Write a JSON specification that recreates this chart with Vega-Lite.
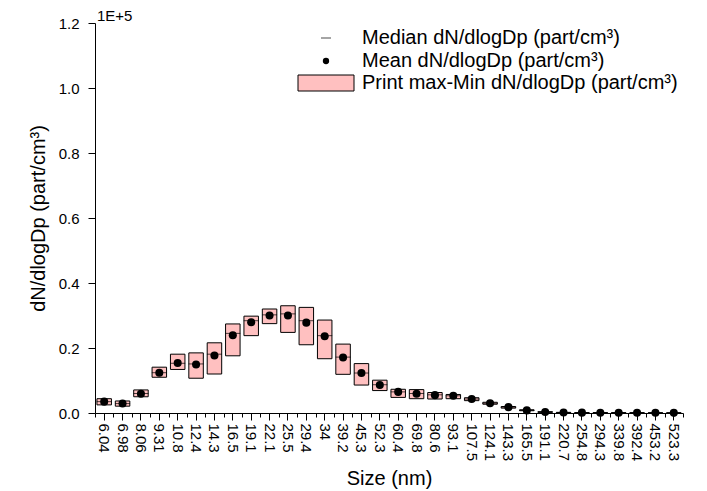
{
  "$schema": "https://vega.github.io/schema/vega-lite/v6.json",
  "width": 588,
  "height": 390,
  "autosize": "none",
  "padding": {"left": 95, "top": 23, "right": 24, "bottom": 78},
  "background": "white",
  "title": {
    "text": "1E+5",
    "anchor": "start",
    "frame": "group",
    "fontSize": 15,
    "fontWeight": "normal",
    "font": "Liberation Sans, Arial, sans-serif",
    "color": "black",
    "offset": -8,
    "dx": 2
  },
  "data": {
    "values": [
      {"size": "6.04", "max": 4400, "min": 2500, "mean": 3500, "median": 3500},
      {"size": "6.98", "max": 3700, "min": 2100, "mean": 2900, "median": 2900},
      {"size": "8.06", "max": 7100, "min": 5000, "mean": 5900, "median": 6000},
      {"size": "9.31", "max": 14100, "min": 11000, "mean": 12400, "median": 12400},
      {"size": "10.8", "max": 18100, "min": 13400, "mean": 15400, "median": 15300},
      {"size": "12.4", "max": 18500, "min": 10700, "mean": 14900, "median": 15100},
      {"size": "14.3", "max": 21600, "min": 12000, "mean": 17700, "median": 18100},
      {"size": "16.5", "max": 27400, "min": 17600, "mean": 23900, "median": 24500},
      {"size": "19.1", "max": 29800, "min": 23800, "mean": 27900, "median": 28400},
      {"size": "22.1", "max": 32000, "min": 27500, "mean": 30000, "median": 30200},
      {"size": "25.5", "max": 33000, "min": 24800, "mean": 30000, "median": 30500},
      {"size": "29.4", "max": 32500, "min": 21000, "mean": 27800, "median": 28400},
      {"size": "34", "max": 28600, "min": 16700, "mean": 23600, "median": 23800},
      {"size": "39.2", "max": 21200, "min": 11900, "mean": 17100, "median": 17200},
      {"size": "45.3", "max": 15200, "min": 8600, "mean": 12300, "median": 12300},
      {"size": "52.3", "max": 10100, "min": 6900, "mean": 8600, "median": 8700},
      {"size": "60.4", "max": 7300, "min": 4800, "mean": 6500, "median": 6500},
      {"size": "69.8", "max": 7200, "min": 4400, "mean": 5900, "median": 6000},
      {"size": "80.6", "max": 6300, "min": 4300, "mean": 5500, "median": 5600},
      {"size": "93.1", "max": 5700, "min": 4400, "mean": 5300, "median": 5300},
      {"size": "107.5", "max": 4700, "min": 3800, "mean": 4300, "median": 4300},
      {"size": "124.1", "max": 3300, "min": 2700, "mean": 3000, "median": 3000},
      {"size": "143.3", "max": 2000, "min": 1500, "mean": 1800, "median": 1800},
      {"size": "165.5", "max": 1000, "min": 700, "mean": 800, "median": 800},
      {"size": "191.1", "max": 400, "min": 200, "mean": 300, "median": 300},
      {"size": "220.7", "max": 200, "min": 100, "mean": 150, "median": 150},
      {"size": "254.8", "max": 150, "min": 80, "mean": 110, "median": 110},
      {"size": "294.3", "max": 120, "min": 60, "mean": 90, "median": 90},
      {"size": "339.8", "max": 100, "min": 50, "mean": 70, "median": 70},
      {"size": "392.4", "max": 80, "min": 40, "mean": 60, "median": 60},
      {"size": "453.2", "max": 60, "min": 30, "mean": 50, "median": 50},
      {"size": "523.3", "max": 50, "min": 20, "mean": 40, "median": 40}
    ]
  },
  "layer": [
    {
      "mark": {"type": "bar", "size": 14.5, "stroke": "black", "strokeWidth": 1},
      "encoding": {
        "x": {
          "field": "size",
          "type": "ordinal",
          "sort": null,
          "scale": {"type": "band", "paddingInner": 0, "paddingOuter": 0},
          "axis": {
            "orient": "bottom",
            "title": "Size (nm)",
            "labelAngle": 90,
            "labelOverlap": false,
            "tickBand": "center",
            "tickSize": 7,
            "labelPadding": 3,
            "titlePadding": 8
          }
        },
        "y": {
          "field": "min",
          "type": "quantitative",
          "title": "dN/dlogDp (part/cm³)",
          "scale": {"domain": [0, 120000], "nice": false, "zero": true},
          "axis": {
            "values": [0, 10000, 20000, 30000, 40000, 50000, 60000, 70000, 80000, 90000, 100000, 110000, 120000],
            "labelExpr": "datum.value % 20000 === 0 ? format(datum.value / 100000, '.1f') : ''",
            "tickSize": {"condition": {"test": "datum.value % 20000 === 0", "value": 7}, "value": 4},
            "labelPadding": 9,
            "titlePadding": 10
          }
        },
        "y2": {"field": "max"},
        "fill": {
          "datum": "Print max-Min dN/dlogDp (part/cm³)",
          "scale": {"range": ["#FFC0C0"]},
          "legend": {
            "title": null,
            "orient": "none",
            "legendX": 221,
            "legendY": 50,
            "padding": 0,
            "labelLimit": 0,
            "labelOffset": 26,
            "symbolType": "M-5.6,-1.6H5.6V1.6H-5.6Z",
            "symbolSize": 100,
            "symbolStrokeColor": "black",
            "symbolStrokeWidth": 1
          }
        }
      }
    },
    {
      "mark": {"type": "tick", "size": 15, "thickness": 1},
      "encoding": {
        "x": {
          "field": "size",
          "type": "ordinal",
          "sort": null,
          "axis": {
            "orient": "bottom",
            "title": null,
            "labels": false,
            "domain": false,
            "tickBand": "extent",
            "tickSize": 4
          }
        },
        "y": {"field": "median", "type": "quantitative", "title": "dN/dlogDp (part/cm³)"},
        "color": {
          "datum": "Median dN/dlogDp (part/cm³)",
          "scale": {"range": ["black"]},
          "legend": {
            "title": null,
            "orient": "none",
            "legendX": 221,
            "legendY": 5,
            "padding": 0,
            "labelLimit": 0,
            "labelOffset": 26,
            "symbolType": "stroke",
            "symbolSize": 100,
            "symbolStrokeColor": "black",
            "symbolStrokeWidth": 1
          }
        }
      }
    },
    {
      "mark": {"type": "point", "filled": true, "size": 65, "opacity": 1, "color": "black"},
      "encoding": {
        "x": {"field": "size", "type": "ordinal", "sort": null, "axis": null},
        "y": {"field": "mean", "type": "quantitative", "title": "dN/dlogDp (part/cm³)"},
        "shape": {
          "datum": "Mean dN/dlogDp (part/cm³)",
          "scale": {"range": ["circle"]},
          "legend": {
            "title": null,
            "orient": "none",
            "legendX": 221,
            "legendY": 28,
            "padding": 0,
            "labelLimit": 0,
            "labelOffset": 26,
            "symbolSize": 40,
            "symbolFillColor": "black",
            "symbolStrokeColor": "black",
            "symbolStrokeWidth": 0,
            "symbolOpacity": 1
          }
        }
      }
    }
  ],
  "resolve": {"axis": {"x": "independent"}},
  "config": {
    "view": {"stroke": null},
    "font": "Liberation Sans, Arial, sans-serif",
    "axis": {
      "grid": false,
      "domainColor": "black",
      "domainWidth": 1,
      "tickColor": "black",
      "tickWidth": 1,
      "labelColor": "black",
      "labelFont": "Liberation Sans, Arial, sans-serif",
      "labelFontSize": 15,
      "titleFont": "Liberation Sans, Arial, sans-serif",
      "titleFontSize": 20,
      "titleFontWeight": "normal",
      "titleColor": "black"
    },
    "legend": {
      "labelFont": "Liberation Sans, Arial, sans-serif",
      "labelFontSize": 20,
      "labelColor": "black"
    }
  }
}
